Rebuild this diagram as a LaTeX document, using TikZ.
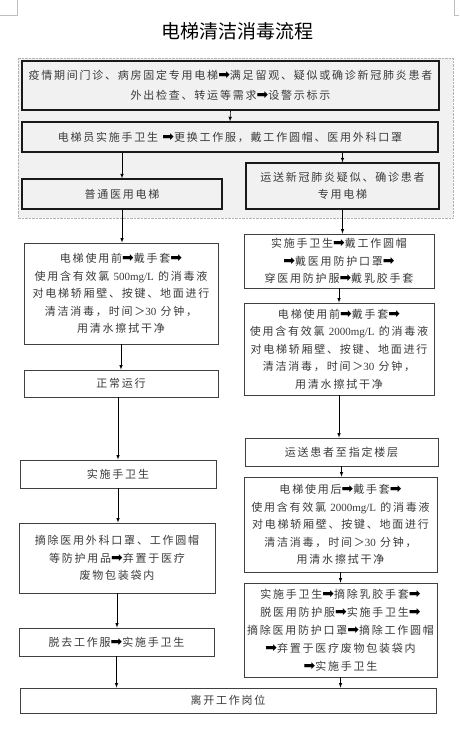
\documentclass[tikz,border=0pt]{standalone}
\usepackage{fontspec}
\setmainfont{Noto Sans CJK SC}[LetterSpace=16]
\newfontfamily\titlefont{Noto Sans CJK SC}
\newfontfamily\symfont{DejaVu Sans}
\newfontfamily\latfont{Liberation Serif}
\definecolor{txt}{HTML}{3A3A3A}
\definecolor{panel}{HTML}{F1F1F1}

\begin{document}
\begin{tikzpicture}[x=1pt, y=1pt,
  box/.style 2 args={draw=black!75, line width=0.8pt, fill=white,
    minimum width=#1, minimum height=#2, inner sep=0pt,
    align=center, text=txt, font=\fontsize{11}{17.5}\selectfont},
  topbox/.style 2 args={box={#1}{#2}, draw=black!90, line width=1.2pt, fill=panel},
  flow/.style={-latex, line width=0.6pt, black}]

\newcommand\Ar{{\symfont\fontsize{14}{14}\selectfont\color{black}➡}};
\newcommand\lat[1]{{\latfont #1}};

\useasboundingbox (0,0) rectangle (459,-729); %% page size

%% page corner marks
\draw[gray!50, line width=0.5pt] (0,-15) -- (17,-15) -- (17,0);
\draw[gray!50, line width=0.5pt] (459,-15) -- (454,-15) -- (454,0);

\node[text=black, font=\titlefont\fontsize{19}{22}\selectfont] (title) at (237,-31) {电梯清洁消毒流程};

%% grey panel behind the first boxes
\draw[fill=panel, draw=gray!60, densely dotted, line width=0.4pt] (18,-58) rectangle (453,-218);

\node[topbox={417}{49}, font=\fontsize{11}{20}\selectfont] (b1) at (230.5,-85.5)
  {疫情期间门诊、病房固定专用电梯\Ar{}满足留观、疑似或确诊新冠肺炎患者\\外出检查、转运等需求\Ar{}设警示标示};
\node[topbox={416}{30}] (b2) at (230,-137)
  {电梯员实施手卫生 \Ar{}更换工作服，戴工作圆帽、医用外科口罩};
\node[topbox={200}{30}] (b3) at (122,-194) {普通医用电梯};
\node[topbox={193}{46}] (b4) at (342.5,-186) {运送新冠肺炎疑似、确诊患者\\专用电梯};

%% left column
\node[box={194}{101}] (l1) at (121,-293.5)
  {电梯使用前\Ar{}戴手套\Ar\\使用含有效氯 \lat{500mg/L} 的消毒液\\对电梯轿厢壁、按键、地面进行\\清洁消毒，时间＞\lat{30} 分钟，\\用清水擦拭干净};
\node[box={194}{27}] (l2) at (121,-383.5) {正常运行};
\node[box={196}{28}] (l3) at (118,-474) {实施手卫生};
\node[box={196}{70}] (l4) at (117,-558)
  {摘除医用外科口罩、工作圆帽\\等防护用品\Ar{}弃置于医疗\\废物包装袋内};
\node[box={195}{28}] (l5) at (116.5,-642) {脱去工作服\Ar{}实施手卫生};

%% right column
\node[box={190}{54}] (r1) at (339,-261)
  {实施手卫生\Ar{}戴工作圆帽\\\Ar{}戴医用防护口罩\Ar\\穿医用防护服\Ar{}戴乳胶手套};
\node[box={190}{92}] (r2) at (339,-349)
  {电梯使用前\Ar{}戴手套\Ar\\使用含有效氯 \lat{2000mg/L} 的消毒液\\对电梯轿厢壁、按键、地面进行\\清洁消毒，时间＞\lat{30} 分钟，\\用清水擦拭干净};
\node[box={193}{28}] (r3) at (341.5,-452) {运送患者至指定楼层};
\node[box={193}{95}] (r4) at (340.5,-524.5)
  {电梯使用后\Ar{}戴手套\Ar\\使用含有效氯 \lat{2000mg/L} 的消毒液\\对电梯轿厢壁、按键、地面进行\\清洁消毒，时间＞\lat{30} 分钟，\\用清水擦拭干净};
\node[box={193}{94}, font=\fontsize{11}{18}\selectfont] (r5) at (340.5,-630)
  {实施手卫生\Ar{}摘除乳胶手套\Ar\\脱医用防护服\Ar{}实施手卫生\Ar\\摘除医用防护口罩\Ar{}摘除工作圆帽\\\Ar{}弃置于医疗废物包装袋内\\\Ar{}实施手卫生};

\node[box={416}{25}] (end) at (228,-700.5) {离开工作岗位};

%% arrows
\draw[flow] (b1.south) -- (b2.north);
\draw[flow] (b2.south -| b3.north) -- (b3.north);
\draw[flow] (b2.south -| b4.north) -- (b4.north);
\draw[flow] (b3.south) -- (b3.south |- l1.north);
\draw[flow] (b4.south) -- (b4.south |- r1.north);
\draw[flow] (l1.south) -- (l2.north);
\draw[flow] (l2.south -| l3.north) -- (l3.north);
\draw[flow] (l3.south) -- (l3.south |- l4.north);
\draw[flow] (l4.south) -- (l4.south |- l5.north);
\draw[flow] (l5.south) -- (l5.south |- end.north);
\draw[flow] (r1.south) -- (r2.north);
\draw[flow] (r2.south) -- (r2.south |- r3.north);
\draw[flow] (r3.south) -- (r3.south |- r4.north);
\draw[flow] (r4.south) -- (r4.south |- r5.north);
\draw[flow] (r5.south) -- (r5.south |- end.north);

\end{tikzpicture}
\end{document}
